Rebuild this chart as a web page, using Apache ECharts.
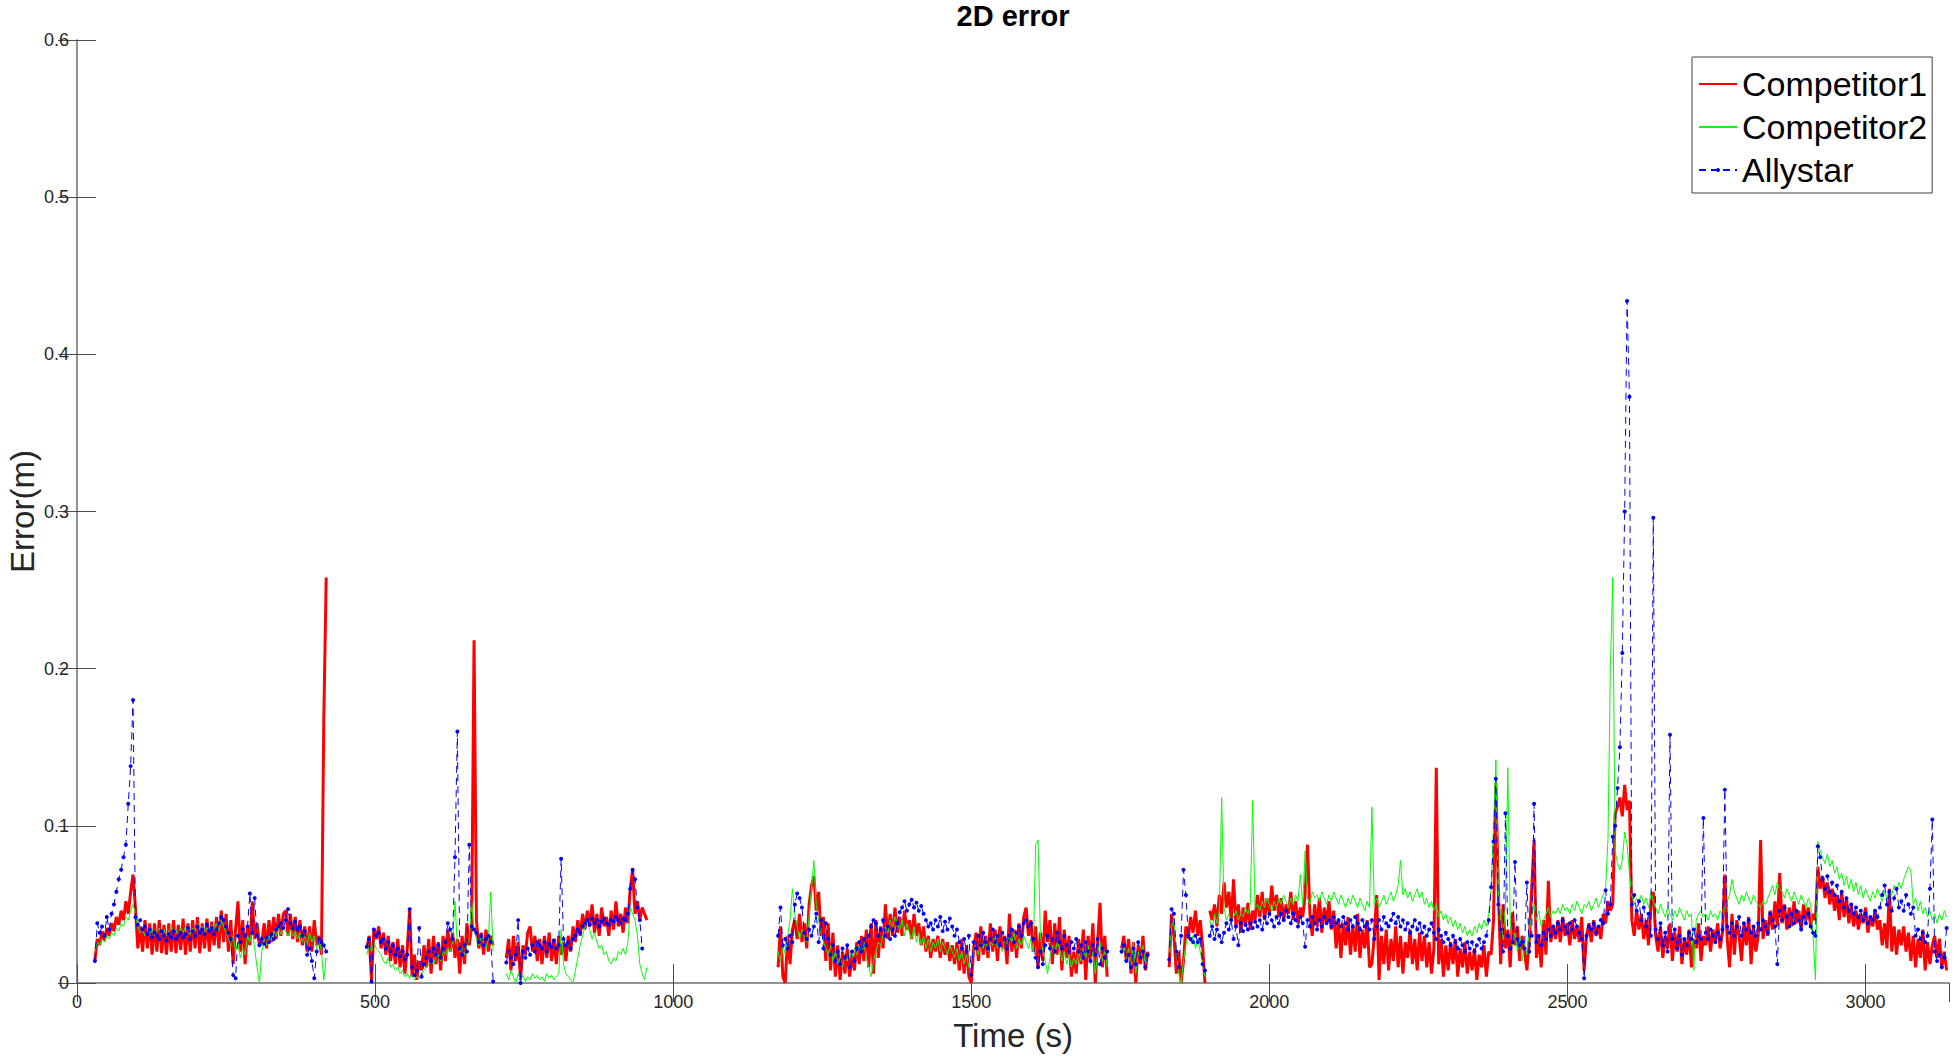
<!DOCTYPE html>
<html>
<head>
<meta charset="utf-8">
<script src="https://cdn.jsdelivr.net/npm/echarts@6/dist/echarts.min.js"></script>
<style>
html,body{margin:0;padding:0;background:#ffffff;}
#chart{width:1954px;height:1057px;}
</style>
</head>
<body>
<div id="chart"></div>
<script>
const SAMPLE_STEP_S = 4;
const segmentStarts = [30, 486, 720, 1176, 1752, 1832, 1900]; // seconds, start of each logged segment
const seriesNames = ['Competitor1', 'Competitor2', 'Allystar'];
const xTicks = [0, 500, 1000, 1500, 2000, 2500, 3000];
const yTicks = [0, 0.1, 0.2, 0.3, 0.4, 0.5, 0.6];

// Competitor1 (red)
const comp1SegA = [14,28,24,33,27,35,30,38,33,42, 37,46,40,52,44,58,69,48,22,36, 20,40,22,38,18,38,20,40,19,37, 18,38,20,40,19,37,21,41,18,38, 20,40,22,42,19,38,22,41,20,39, 24,42,22,46,26,44,20,40,12,34, 52,20,40,12,36,24,52,28,38,24, 26,38,22,40,26,42,28,44,30,44, 46,30,44,28,42,26,40,24,36,20, 36,20,40,24,30,18,168,258];
const comp1SegB = [22,30,2,34,28,36,22,32,18,30, 14,26,12,28,10,24,6,22,47,4, 18,2,14,8,24,10,28,6,30,12, 26,8,30,14,34,20,32,16,28,6, 30,12,38,24,36,218,40,22,32,18, 34,20,30,24];
const comp1SegC = [16,28,8,30,14,26,2,24,18,32, 36,20,30,14,28,12,30,16,32,14, 28,12,30,18,26,14,30,20,36,26, 40,30,44,34,46,36,50,32,44,30, 48,36,42,30,46,34,52,36,44,32, 48,38,60,72,44,52,40,48,44,40];
const comp1SegD = [10,36,4,0,30,12,34,40,28,44, 26,38,22,50,62,68,46,58,30,42, 14,38,8,32,4,24,2,20,6,22, 4,18,8,26,12,30,14,34,10,38, 6,40,16,36,22,50,28,44,30,48, 32,42,30,46,34,40,28,44,30,38, 24,36,20,30,16,28,20,30,16,28, 18,26,14,24,12,26,8,28,6,24, 4,0,22,32,14,36,18,30,16,38, 20,34,14,36,22,30,12,44,20,34, 16,38,22,42,48,30,40,20,36,10, 32,14,46,26,40,12,38,18,42,8, 34,16,30,4,20,6,28,12,34,2, 30,14,38,0,26,51,10,30,4];
const comp1SegE = [22,30,14,28,6,26,0,24,12,30,8,20];
const comp1SegF = [10,44,30,6,20,0,14,36,28,42,32,46,30,40,24,0];
const comp1SegG = [46,40,50,36,56,44,64,48,58,40, 66,36,50,32,48,36,51,34,46,40, 56,42,58,40,54,44,62,46,56,42, 54,40,50,44,58,40,52,38,48,42, 56,88,44,30,50,36,54,32,48,38, 52,34,46,22,40,16,38,24,42,18, 36,20,44,16,34,22,40,10,12,30, 56,2,30,12,34,8,28,14,36,10, 30,6,26,16,34,12,28,8,32,14, 30,10,26,6,22,137,12,28,4,24, 8,26,12,28,4,22,10,26,6,20, 8,22,2,18,10,24,4,20,18,40, 127,60,12,50,22,34,10,45,24,36, 14,30,20,8,28,60,91,16,30,10, 40,18,65,26,36,28,40,26,42,30, 38,24,40,28,36,26,42,8,30,38, 26,40,30,36,28,44,38,52,46,50, 108,112,118,106,126,110,116,40,30,46, 34,44,28,40,24,50,58,30,20,36, 16,30,22,38,14,32,20,36,12,28, 18,34,10,28,22,38,14,30,24,36, 20,34,26,38,22,32,69,28,10,44, 18,40,30,14,38,24,42,12,36,20, 30,91,28,40,30,46,34,52,36,70, 38,50,34,48,36,52,38,46,34,50, 40,48,36,44,40,74,60,68,54,64, 50,60,46,56,40,58,42,54,38,50, 36,46,34,44,38,48,32,42,36,46, 34,40,24,38,22,60,20,36,18,34, 24,36,20,32,14,30,10,28,16,34, 8,26,12,24,30,16,28,10,20,8];

// Competitor2 (green)
const comp2SegA = [20,26,24,28,26,30,28,32,30,35, 33,38,36,42,40,46,50,44,36,32, 34,30,33,31,34,30,33,35,31,34, 30,33,36,32,34,30,35,32,36,33, 31,35,33,38,34,36,32,35,33,37, 34,38,33,40,36,32,28,24,30,20, 26,16,22,18,30,26,34,22,10,0, 20,28,24,30,27,33,30,35,31,36, 33,30,34,30,33,28,32,26,30,24, 32,26,30,22,28,20,2,16];
const comp2SegB = [18,24,20,26,22,20,18,14,12,16, 10,12,8,10,6,8,4,6,3,5, 2,4,3,6,8,10,12,14,12,16, 18,14,20,18,22,20,26,52,24,20, 22,18,24,28,52,34,28,24,30,26, 22,28,58,20];
const comp2SegC = [6,2,8,4,0,6,2,5,1,4, 2,6,3,5,2,4,1,6,3,5, 2,4,6,34,12,6,4,2,0,8, 16,24,30,36,40,34,28,32,26,22, 24,18,20,14,12,16,14,20,18,22, 18,26,48,44,40,30,12,6,2,10];
const comp2SegD = [20,14,24,18,30,40,60,44,36,28, 34,30,26,42,60,78,50,40,32,26, 22,18,24,14,20,12,16,10,18,14, 20,16,22,18,24,20,26,16,10,4, 14,20,26,24,30,36,32,40,36,42, 38,34,40,30,38,32,28,36,26,32, 24,30,22,28,20,26,22,28,20,26, 22,18,24,20,16,22,14,20,12,18, 10,16,20,24,18,26,22,28,20,26, 24,30,22,26,20,28,24,30,26,32, 22,28,24,30,26,22,28,20,88,91, 30,20,14,6,16,24,18,26,22,14, 20,12,18,10,16,12,20,14,22,16, 24,12,20,6,18,26,14,20,10];
const comp2SegE = [18,24,14,22,10,26,6,20,16,24,12,18];
const comp2SegF = [14,36,40,20,6,0,14,24,32,26,30,22,28,20,12,4];
const comp2SegG = [40,34,44,38,46,118,48,40,44,38, 42,46,40,44,42,48,44,50,116,48, 50,46,52,48,54,50,46,52,48,54, 50,56,52,48,54,50,56,52,69,50, 84,54,50,58,54,56,52,58,54,50, 56,52,58,54,50,56,52,48,54,50, 56,52,48,54,50,46,52,48,112,50, 54,48,52,56,50,54,58,52,56,62, 78,56,60,54,58,52,56,60,54,58, 50,54,48,52,46,50,42,46,40,44, 38,42,36,40,34,38,32,36,30,34, 30,36,32,38,34,40,36,44,60,100, 142,60,40,28,50,137,40,24,32,20, 30,14,26,18,34,42,50,40,46,36, 40,44,48,42,46,44,48,44,50,46, 48,44,50,46,52,48,44,50,48,52, 46,50,54,48,52,56,60,92,200,258, 84,76,72,78,96,88,70,56,50,54, 52,56,50,54,48,58,52,48,44,50, 46,42,48,44,40,46,42,48,44,40, 46,42,44,8,40,44,46,42,44,40, 46,42,44,40,46,42,48,52,56,66, 58,54,50,56,52,58,54,50,56,52, 50,48,52,50,54,58,62,56,64,60, 58,54,60,56,52,58,54,50,56,52, 48,54,50,30,2,90,84,80,76,82, 74,78,70,74,66,70,62,68,60,66, 58,64,56,62,54,60,56,52,58,54, 60,56,52,58,54,58,56,62,58,64, 60,66,70,74,72,50,54,46,52,44, 48,42,46,40,44,38,44,40,46,42];

// Allystar (blue)
const allySegA = [14,38,32,36,30,42,34,44,50,58, 66,72,80,88,114,138,180,42,37,40, 34,36,31,34,29,32,30,28,33,30, 27,31,29,33,28,30,32,29,31,35, 28,33,30,36,32,34,31,37,33,35, 31,34,38,42,40,36,32,28,5,3, 30,26,34,30,36,57,32,54,30,24, 28,25,29,26,31,28,34,36,38,35, 40,47,38,35,39,34,36,30,33,18, 22,14,3,20,28,26,24,20];
const allySegB = [23,28,1,34,30,32,26,28,22,26, 20,24,18,22,17,20,15,18,47,10, 5,8,35,4,12,16,20,14,22,18, 24,16,22,26,38,34,28,80,160,22, 18,24,20,88,36,34,32,26,30,24, 28,30,26,1];
const allySegC = [13,20,16,12,18,40,0,20,16,22, 18,24,20,26,24,22,26,20,25,23, 27,22,24,79,28,24,26,22,28,30, 34,32,36,38,40,37,41,38,40,36, 39,41,38,37,40,39,42,40,38,41, 40,44,60,72,66,48,40,22];
const allySegD = [30,48,24,28,22,30,26,50,57,54, 48,32,28,34,30,36,44,26,40,22, 38,28,18,24,14,20,12,22,16,24, 10,20,14,22,26,20,28,24,30,36, 40,38,30,34,40,30,36,28,34,30, 38,45,48,52,46,50,53,48,51,46, 49,44,40,36,38,34,40,36,42,33, 39,34,41,36,30,34,26,22,28,20, 30,5,26,22,30,24,32,26,22,28, 34,26,30,24,32,28,22,30,34,26, 32,36,30,38,40,36,38,28,16,10, 20,12,24,30,22,28,20,32,26,22, 30,24,20,26,22,28,20,24,16,26, 20,14,24,18,28,12,22,16,20];
const allySegE = [20,24,14,18,10,22,12,26,16,20,10,18];
const allySegF = [15,47,44,20,10,30,72,56,30,28,26,30,26,28,12,8];
const allySegG = [30,36,28,34,30,26,32,38,34,40, 28,36,24,38,33,37,34,38,35,39, 36,40,34,42,38,44,40,36,42,38, 44,40,46,42,38,44,40,36,42,38, 23,40,36,42,38,34,40,36,42,38, 40,36,42,38,40,36,42,38,34,40, 36,42,38,34,40,36,38,34,40,28, 36,40,34,42,38,36,40,44,38,42, 36,40,34,38,32,36,40,34,38,32, 36,30,34,38,32,28,34,30,26,32, 28,24,30,26,22,28,24,20,26,22, 26,20,24,28,22,26,30,40,61,90, 130,50,34,20,108,30,22,26,77,28, 24,26,22,64,20,30,114,26,30,24, 32,28,34,30,36,32,38,34,40,36, 32,38,34,40,36,32,28,3,30,36, 34,38,32,36,40,38,59,44,50,93, 100,124,150,210,300,434,373,50,56,46, 52,40,48,36,44,30,296,34,28,38, 24,32,20,158,28,34,22,30,18,28, 24,32,28,34,26,30,28,105,32,28, 34,30,26,32,28,34,123,36,32,38, 30,36,42,30,38,34,40,32,36,30, 38,34,40,36,32,44,40,36,12,46, 40,48,42,36,44,38,46,40,34,42, 38,44,36,32,30,87,80,66,60,68, 58,64,56,62,52,58,48,54,46,50, 44,48,42,46,40,44,38,42,40,46, 42,48,56,62,50,58,46,54,60,48, 52,46,56,50,44,48,30,34,28,32, 26,30,60,104,20,14,18,10,16,35];

// ---- Build [time, metres] pairs; a '-' point between segments breaks the line ----
function buildSeries(parts) {
  const out = [];
  parts.forEach(function (vals, k) {
    if (k > 0) out.push([segmentStarts[k] - 2, '-']);
    vals.forEach(function (mm, i) {
      out.push([segmentStarts[k] + i * SAMPLE_STEP_S, mm / 1000]);
    });
  });
  return out;
}
const comp1Data = buildSeries([comp1SegA, comp1SegB, comp1SegC, comp1SegD, comp1SegE, comp1SegF, comp1SegG]);
const comp2Data = buildSeries([comp2SegA, comp2SegB, comp2SegC, comp2SegD, comp2SegE, comp2SegF, comp2SegG]);
const allyData = buildSeries([allySegA, allySegB, allySegC, allySegD, allySegE, allySegF, allySegG]);

const FONT = "'Liberation Sans', Arial, Helvetica, sans-serif";
const AXIS_LINE = { lineStyle: { color: '#8a8a8a', width: 1.5 } };
const AXIS_TICK = { inside: true, length: 19, lineStyle: { color: '#4d4d4d', width: 1 } };

const chart = echarts.init(document.getElementById('chart'), null, { renderer: 'svg' });
chart.setOption({
  animation: false,
  backgroundColor: '#ffffff',
  title: {
    text: '2D error',
    left: 1013,
    top: 0,
    textAlign: 'center',
    padding: [1, 0, 0, 0],
    textStyle: { fontFamily: FONT, fontSize: 29, fontWeight: 'bold', color: '#000000' }
  },
  grid: { left: 77, right: 5, top: 40, bottom: 74, containLabel: false, outerBoundsMode: 'none' },
  legend: {
    orient: 'vertical',
    left: 1692,
    top: 57,
    backgroundColor: '#ffffff',
    borderColor: '#404040',
    borderWidth: 1,
    borderRadius: 0,
    padding: [10, 5, 6, 6],
    itemWidth: 38,
    itemHeight: 5,
    itemGap: 9,
    textStyle: { fontFamily: FONT, fontSize: 34, color: '#000000', lineHeight: 34 },
    data: [
      { name: seriesNames[0], itemStyle: { opacity: 0 } },
      { name: seriesNames[1], itemStyle: { opacity: 0 } },
      { name: seriesNames[2] }
    ]
  },
  xAxis: [{
    type: 'value', position: 'bottom', min: xTicks[0], max: 3140, interval: xTicks[1] - xTicks[0],
    name: 'Time (s)', nameLocation: 'middle', nameGap: 36, nameMoveOverlap: false,
    nameTextStyle: { fontFamily: FONT, fontSize: 33, color: '#262626' },
    axisLine: AXIS_LINE, axisTick: AXIS_TICK,
    axisLabel: {
      fontFamily: FONT, fontSize: 18, color: '#262626', margin: 10, showMaxLabel: false,
      formatter: function (v) { return String(v); }
    },
    splitLine: { show: false }
  }, {
    type: 'value', position: 'top', min: xTicks[0], max: 3140, interval: xTicks[1] - xTicks[0],
    axisLine: AXIS_LINE, axisTick: AXIS_TICK, axisLabel: { show: false }, splitLine: { show: false }
  }],
  yAxis: [{
    type: 'value', position: 'left', min: yTicks[0], max: yTicks[yTicks.length - 1], interval: 0.1,
    name: 'Error(m)', nameLocation: 'middle', nameGap: 38, nameMoveOverlap: false,
    nameTextStyle: { fontFamily: FONT, fontSize: 33, color: '#262626', lineHeight: 34 },
    axisLine: AXIS_LINE, axisTick: AXIS_TICK,
    axisLabel: { fontFamily: FONT, fontSize: 18, color: '#262626', margin: 8 },
    splitLine: { show: false }
  }, {
    type: 'value', position: 'right', min: yTicks[0], max: yTicks[yTicks.length - 1], interval: 0.1,
    axisLine: AXIS_LINE, axisTick: AXIS_TICK, axisLabel: { show: false }, splitLine: { show: false }
  }],
  series: [{
    name: seriesNames[0], type: 'line', data: comp1Data, xAxisIndex: 0, yAxisIndex: 0,
    symbol: 'none', connectNulls: false,
    lineStyle: { color: '#ff0000', width: 3 }, itemStyle: { color: '#ff0000' }
  }, {
    name: seriesNames[1], type: 'line', data: comp2Data, xAxisIndex: 0, yAxisIndex: 0,
    symbol: 'none', connectNulls: false,
    lineStyle: { color: '#00ff00', width: 1 }, itemStyle: { color: '#00ff00' }
  }, {
    name: seriesNames[2], type: 'line', data: allyData, xAxisIndex: 0, yAxisIndex: 0,
    symbol: 'circle', symbolSize: 4, showAllSymbol: true, connectNulls: false,
    lineStyle: { color: '#0000ff', width: 1, type: [7, 5] }, itemStyle: { color: '#0000ff' }
  }]
});
</script>
</body>
</html>
